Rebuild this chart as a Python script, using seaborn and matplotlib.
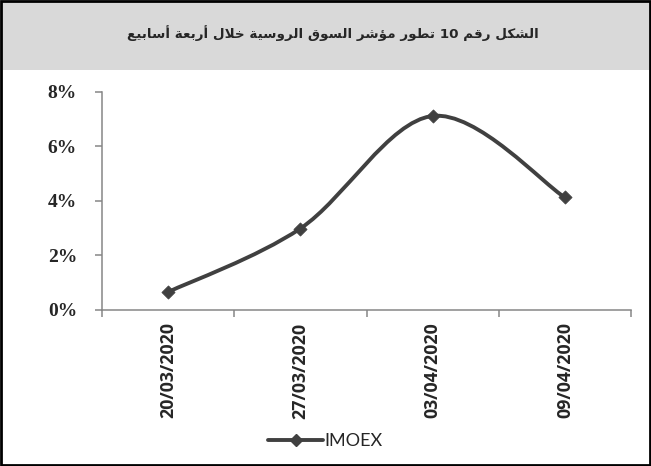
import numpy as np
import pandas as pd
import seaborn as sns
import matplotlib.pyplot as plt
from matplotlib.path import Path
from matplotlib.patches import PathPatch, Rectangle
from matplotlib.lines import Line2D
from matplotlib.ticker import PercentFormatter, FixedLocator

# Data: weekly change of the IMOEX index (%)
dates = ["20/03/2020", "27/03/2020", "03/04/2020", "09/04/2020"]
imoex = [0.66, 2.99, 7.12, 4.13]
series_name = "IMOEX"
title = "الشكل رقم 10 تطور مؤشر السوق الروسية خلال أربعة أسابيع"

# Minimal Arabic shaping (matplotlib has no complex text layout)
FORMS = {
    "ا": (0xFE8D, 0xFE8E, None, None), "أ": (0xFE83, 0xFE84, None, None),
    "ؤ": (0xFE85, 0xFE86, None, None), "ة": (0xFE93, 0xFE94, None, None),
    "ر": (0xFEAD, 0xFEAE, None, None), "و": (0xFEED, 0xFEEE, None, None),
    "ب": (0xFE8F, 0xFE90, 0xFE91, 0xFE92), "ت": (0xFE95, 0xFE96, 0xFE97, 0xFE98),
    "خ": (0xFEA5, 0xFEA6, 0xFEA7, 0xFEA8), "س": (0xFEB1, 0xFEB2, 0xFEB3, 0xFEB4),
    "ش": (0xFEB5, 0xFEB6, 0xFEB7, 0xFEB8), "ط": (0xFEC1, 0xFEC2, 0xFEC3, 0xFEC4),
    "ع": (0xFEC9, 0xFECA, 0xFECB, 0xFECC), "ق": (0xFED5, 0xFED6, 0xFED7, 0xFED8),
    "ك": (0xFED9, 0xFEDA, 0xFEDB, 0xFEDC), "ل": (0xFEDD, 0xFEDE, 0xFEDF, 0xFEE0),
    "م": (0xFEE1, 0xFEE2, 0xFEE3, 0xFEE4), "ي": (0xFEF1, 0xFEF2, 0xFEF3, 0xFEF4),
}
LAM_ALEF = {"ا": (0xFEFB, 0xFEFC), "أ": (0xFEF7, 0xFEF8)}


def shape_word(w):
    out, prev_dual, i = [], False, 0
    while i < len(w):
        c = w[i]
        if c == "ل" and i + 1 < len(w) and w[i + 1] in LAM_ALEF:
            out.append(chr(LAM_ALEF[w[i + 1]][1 if prev_dual else 0]))
            prev_dual = False
            i += 2
            continue
        if c not in FORMS:
            out.append(c)
            prev_dual = False
            i += 1
            continue
        isol, fin, init, med = FORMS[c]
        dual = init is not None
        joins_next = dual and i + 1 < len(w) and w[i + 1] in FORMS
        if prev_dual and joins_next:
            g = med
        elif prev_dual:
            g = fin
        elif joins_next:
            g = init
        else:
            g = isol
        out.append(chr(g))
        prev_dual = dual
        i += 1
    return "".join(out)


def rtl(text):
    words = []
    for w in text.split(" "):
        words.append(w if w.isdigit() else shape_word(w)[::-1])
    return " ".join(reversed(words))


df = pd.DataFrame({"date": dates, "value": imoex})
line_color = "#404040"
axis_color = "#868686"

sns.set_style("white")
fig = plt.figure(figsize=(6.51, 4.66), dpi=100)
ax = fig.add_axes([0.1567, 0.3348, 0.8126, 0.4678])

# Smoothed line (Excel-like Bezier through the data points)
x = np.arange(len(imoex), dtype=float)
y = np.array(imoex)
pts = np.column_stack([x, y])
verts, codes = [pts[0]], [Path.MOVETO]
for i in range(len(pts) - 1):
    p0 = pts[max(i - 1, 0)]
    p1, p2 = pts[i], pts[i + 1]
    p3 = pts[min(i + 2, len(pts) - 1)]
    verts += [p1 + (p2 - p0) / 6, p2 - (p3 - p1) / 6, p2]
    codes += [Path.CURVE4] * 3
ax.add_patch(PathPatch(Path(verts, codes), facecolor="none",
                       edgecolor=line_color, lw=2.8, capstyle="round",
                       zorder=2))

sns.scatterplot(data=df, x="date", y="value", marker="D", s=45,
                color=line_color, edgecolor=line_color, ax=ax, zorder=3,
                legend=False)

ax.set_xlim(-0.5, len(dates) - 0.5)
ax.set_ylim(0, 8)
ax.set_yticks([0, 2, 4, 6, 8])
ax.yaxis.set_major_formatter(PercentFormatter(decimals=0))
ax.set_xticks(x)
ax.set_xticklabels(dates, rotation=90, fontweight="bold", fontsize=12.8,
                   family="Open Sans")
ax.xaxis.set_minor_locator(FixedLocator(np.arange(-0.5, len(dates), 1.0)))
ax.tick_params(axis="x", which="major", bottom=True, length=0, pad=9)
ax.tick_params(axis="x", which="minor", bottom=True, length=5, width=1.1,
               color=axis_color, direction="out")
ax.tick_params(axis="y", left=True, length=5, width=1.1, color=axis_color,
               direction="out", pad=13)
for lab in ax.get_yticklabels():
    lab.set_fontweight("bold")
    lab.set_fontsize(14)
    lab.set_family("Liberation Serif")
ax.set_xlabel("")
ax.set_ylabel("")
sns.despine(ax=ax)
for s in ["left", "bottom"]:
    ax.spines[s].set_color(axis_color)
    ax.spines[s].set_linewidth(1.1)

# Legend at the bottom
handle = Line2D([], [], color=line_color, lw=2.8, marker="D", markersize=6)
fig.legend([handle], [series_name], loc="center", bbox_to_anchor=(0.5, 0.053),
           frameon=False, handlelength=3.0, handletextpad=0.1,
           prop={"family": "Lato", "size": 13})

# Title band and frame
fig.patches.append(Rectangle((0, 1 - 70 / 466), 1, 70 / 466,
                             transform=fig.transFigure, facecolor="#d9d9d9",
                             edgecolor="none", zorder=0))
fig.patches.append(Rectangle((0.002, 0.003), 0.996, 0.994,
                             transform=fig.transFigure, facecolor="none",
                             edgecolor="black", lw=2, zorder=5))
fig.text(0.511, 1 - 33 / 466, rtl(title), ha="center", va="center",
         fontsize=9.7, fontweight="bold", family="DejaVu Sans")

fig.savefig("out.png", dpi=100)
